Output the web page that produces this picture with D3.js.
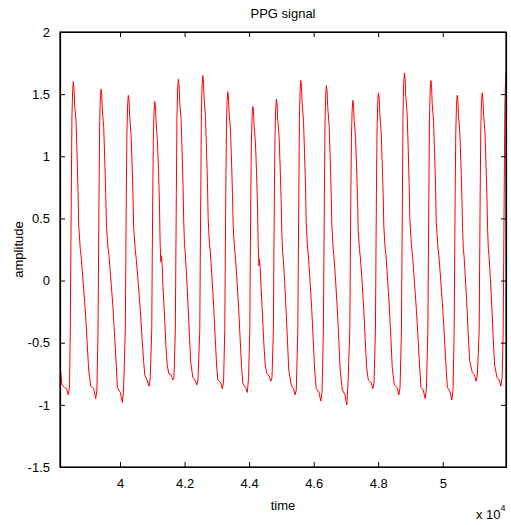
<!DOCTYPE html>
<html>
<head>
<meta charset="utf-8">
<script src="https://cdnjs.cloudflare.com/ajax/libs/d3/7.8.5/d3.min.js"></script>
<style>
    body { margin: 0; background: #fff; }
    svg text { font-family: 'Liberation Sans', Arial, sans-serif; font-size: 13px; fill: #000; }
</style>
</head>
<body>
<svg id="chart" width="511" height="525"></svg>
<script>
    // samples: [time, amplitude]
    const ppgPoints = [
        [38140,-0.65],[38171,-0.76],[38202,-0.84],[38280,-0.86],[38342,-0.87],[38373,-0.90],[38397,-0.92],
        // beat 1
        [38434,-0.86],[38459,-0.40],[38474,0.15],[38490,0.70],[38509,1.30],[38530,1.52],[38552,1.60],
        [38574,1.55],[38592,1.42],[38636,1.29],[38667,1.02],[38698,0.73],[38719,0.45],[38769,0.25],[38800,0.18],
        [38853,0.00],[38924,-0.24],[38977,-0.48],[39029,-0.72],[39092,-0.85],[39185,-0.87],[39247,-0.95],
        // beat 2
        [39284,-0.88],[39318,-0.40],[39333,0.15],[39349,0.70],[39368,1.24],[39389,1.46],[39411,1.54],
        [39433,1.50],[39451,1.38],[39495,1.23],[39526,0.98],[39557,0.70],[39578,0.45],[39628,0.26],[39659,0.20],
        [39712,0.02],[39783,-0.22],[39836,-0.46],[39888,-0.70],[39916,-0.86],[40009,-0.90],[40071,-0.98],
        // beat 3
        [40108,-0.90],[40164,-0.40],[40179,0.15],[40195,0.70],[40214,1.19],[40235,1.41],[40257,1.49],
        [40279,1.45],[40297,1.33],[40341,1.18],[40372,0.95],[40403,0.68],[40424,0.42],[40474,0.24],[40505,0.17],
        [40558,0.00],[40629,-0.24],[40682,-0.46],[40734,-0.66],[40769,-0.76],[40837,-0.80],[40899,-0.85],
        // beat 4
        [40936,-0.78],[40983,-0.40],[40998,0.15],[41014,0.70],[41033,1.14],[41054,1.36],[41076,1.44],
        [41098,1.40],[41116,1.28],[41160,1.12],[41191,0.90],[41222,0.62],[41243,0.30],[41266,0.15],[41281,0.20],
        [41306,0.12],[41331,-0.05],[41381,-0.30],[41421,-0.52],[41461,-0.68],[41514,-0.75],[41584,-0.76],[41634,-0.80],
        // beat 5
        [41671,-0.78],[41714,-0.40],[41729,0.15],[41745,0.70],[41764,1.32],[41785,1.54],[41807,1.62],
        [41829,1.57],[41847,1.44],[41891,1.30],[41922,1.05],[41953,0.76],[41974,0.48],[41997,0.30],[42022,0.22],
        [42062,0.04],[42112,-0.22],[42152,-0.45],[42192,-0.66],[42258,-0.78],[42328,-0.80],[42378,-0.84],
        // beat 6
        [42415,-0.80],[42471,-0.40],[42486,0.15],[42502,0.70],[42521,1.35],[42542,1.57],[42564,1.65],
        [42586,1.60],[42604,1.47],[42648,1.32],[42679,1.06],[42710,0.78],[42731,0.50],[42769,0.30],[42796,0.24],
        [42844,0.05],[42904,-0.22],[42949,-0.46],[42992,-0.68],[43031,-0.80],[43116,-0.82],[43171,-0.87],
        // beat 7
        [43208,-0.82],[43246,-0.40],[43261,0.15],[43277,0.70],[43296,1.22],[43317,1.44],[43339,1.52],
        [43361,1.48],[43379,1.36],[43423,1.21],[43454,0.97],[43485,0.70],[43506,0.44],[43544,0.27],[43571,0.20],
        [43619,0.02],[43679,-0.24],[43724,-0.48],[43767,-0.70],[43806,-0.83],[43891,-0.86],[43946,-0.90],
        // beat 8
        [43983,-0.78],[44021,-0.40],[44036,0.15],[44052,0.70],[44071,1.10],[44092,1.32],[44114,1.40],
        [44136,1.36],[44154,1.25],[44198,1.10],[44229,0.88],[44260,0.60],[44281,0.30],[44304,0.12],[44319,0.17],
        [44344,0.10],[44369,-0.05],[44419,-0.30],[44459,-0.52],[44499,-0.68],[44552,-0.75],[44622,-0.77],[44672,-0.81],
        // beat 9
        [44709,-0.78],[44752,-0.40],[44767,0.15],[44783,0.70],[44802,1.16],[44823,1.38],[44845,1.46],
        [44867,1.42],[44885,1.30],[44929,1.16],[44960,0.93],[44991,0.66],[45012,0.40],[45035,0.24],[45060,0.17],
        [45100,0.00],[45150,-0.26],[45190,-0.50],[45230,-0.72],[45305,-0.84],[45375,-0.87],[45425,-0.92],
        // beat 10
        [45462,-0.88],[45509,-0.40],[45524,0.15],[45540,0.70],[45559,1.31],[45580,1.53],[45602,1.61],
        [45624,1.56],[45642,1.43],[45686,1.28],[45717,1.03],[45748,0.75],[45769,0.47],[45807,0.28],[45834,0.21],
        [45882,0.02],[45942,-0.24],[45987,-0.48],[46030,-0.72],[46082,-0.87],[46167,-0.90],[46222,-0.97],
        // beat 11
        [46259,-0.90],[46302,-0.40],[46317,0.15],[46333,0.70],[46352,1.27],[46373,1.49],[46395,1.57],
        [46417,1.52],[46435,1.40],[46479,1.25],[46510,1.00],[46541,0.72],[46562,0.46],[46600,0.27],[46627,0.20],
        [46675,0.02],[46735,-0.24],[46780,-0.48],[46823,-0.72],[46888,-0.88],[46973,-0.92],[47028,-1.00],
        // beat 12
        [47065,-0.82],[47121,-0.40],[47136,0.15],[47152,0.70],[47171,1.15],[47192,1.37],[47214,1.45],
        [47236,1.41],[47254,1.29],[47298,1.15],[47329,0.92],[47360,0.66],[47381,0.40],[47419,0.25],[47446,0.19],
        [47494,0.02],[47554,-0.24],[47599,-0.48],[47642,-0.70],[47694,-0.80],[47779,-0.82],[47834,-0.87],
        // beat 13
        [47871,-0.82],[47914,-0.40],[47929,0.15],[47945,0.70],[47964,1.21],[47985,1.43],[48007,1.51],
        [48029,1.47],[48047,1.35],[48091,1.20],[48122,0.96],[48153,0.70],[48174,0.44],[48212,0.27],[48239,0.21],
        [48287,0.03],[48347,-0.22],[48392,-0.46],[48435,-0.70],[48500,-0.84],[48585,-0.86],[48640,-0.92],
        // beat 14
        [48677,-0.86],[48720,-0.40],[48735,0.15],[48751,0.70],[48770,1.37],[48791,1.59],[48813,1.67],
        [48835,1.62],[48853,1.49],[48897,1.34],[48928,1.08],[48959,0.78],[48980,0.50],[49030,0.28],[49061,0.21],
        [49114,0.02],[49185,-0.24],[49238,-0.48],[49290,-0.72],[49325,-0.86],[49393,-0.88],[49455,-0.95],
        // beat 15
        [49492,-0.88],[49539,-0.40],[49554,0.15],[49570,0.70],[49589,1.31],[49610,1.53],[49632,1.61],
        [49654,1.56],[49672,1.43],[49716,1.28],[49747,1.03],[49778,0.75],[49799,0.47],[49849,0.27],[49880,0.20],
        [49933,0.02],[50004,-0.24],[50057,-0.48],[50109,-0.72],[50143,-0.86],[50221,-0.89],[50283,-0.96],
        // beat 16
        [50320,-0.88],[50354,-0.40],[50369,0.15],[50385,0.70],[50404,1.19],[50425,1.41],[50447,1.49],
        [50469,1.45],[50487,1.33],[50531,1.18],[50562,0.95],[50593,0.68],[50614,0.42],[50637,0.26],[50662,0.19],
        [50702,0.02],[50752,-0.22],[50792,-0.44],[50832,-0.64],[50916,-0.74],[50986,-0.76],[51036,-0.81],
        // beat 17
        [51073,-0.76],[51129,-0.40],[51144,0.15],[51160,0.70],[51179,1.21],[51200,1.43],[51222,1.51],
        [51244,1.47],[51262,1.35],[51306,1.20],[51337,0.96],[51368,0.69],[51389,0.42],[51412,0.26],[51437,0.19],
        [51477,0.01],[51527,-0.24],[51567,-0.48],[51607,-0.68],[51682,-0.78],[51752,-0.80],[51802,-0.85],
        // beat 18 (cut at the right edge)
        [51839,-0.78],[51873,-0.40],[51888,0.15],[51904,0.70],[51923,1.37],[51944,1.59],[51960,1.67]
    ];

    const xTicks = [40000, 42000, 44000, 46000, 48000, 50000];
    const xTickLabels = ["4", "4.2", "4.4", "4.6", "4.8", "5"];
    const yTicks = [-1.5, -1, -0.5, 0, 0.5, 1, 1.5, 2];
    const yTickLabels = ["-1.5", "-1", "-0.5", "0", "0.5", "1", "1.5", "2"];

    let svg = d3.select("svg#chart");
    let padding = {top: 32, bottom: 58, left: 60, right: 5};
    let chartWidth = 511 - padding.left - padding.right;
    let chartHeight = 525 - padding.top - padding.bottom;

    let xScale = d3.scaleLinear()
        .domain([38140, 51960])
        .range([0, chartWidth]);

    let yScale = d3.scaleLinear()
        .domain([-1.5, 2])
        .range([chartHeight, 0]);

    let g = svg.append("g")
        .attr("transform", "translate(" + padding.left + "," + padding.top + ")");

    g.append("clipPath").attr("id", "clip")
        .append("rect").attr("width", chartWidth).attr("height", chartHeight);

    // the signal
    let line = d3.line()
        .x(d => xScale(d[0]))
        .y(d => yScale(d[1]));

    g.append("path")
        .datum(ppgPoints)
        .attr("clip-path", "url(#clip)")
        .attr("fill", "none")
        .attr("stroke", "#ff0000")
        .attr("stroke-width", 1)
        .attr("d", line);

    // matlab style axes, ticks pointing inward on all four sides
    const tickLen = 5;

    let xAxis = d3.axisBottom(xScale).tickValues(xTicks).tickFormat((d, i) => xTickLabels[i])
        .tickSizeInner(-tickLen).tickSizeOuter(0).tickPadding(12);
    let xAxisTop = d3.axisTop(xScale).tickValues(xTicks).tickFormat("")
        .tickSizeInner(-tickLen).tickSizeOuter(0);
    let yAxis = d3.axisLeft(yScale).tickValues(yTicks).tickFormat((d, i) => yTickLabels[i])
        .tickSizeInner(-tickLen).tickSizeOuter(0).tickPadding(10);
    let yAxisRight = d3.axisRight(yScale).tickValues(yTicks).tickFormat("")
        .tickSizeInner(-tickLen).tickSizeOuter(0);

    g.append("g").attr("class", "axis")
        .attr("transform", "translate(0," + chartHeight + ")").call(xAxis);
    g.append("g").attr("class", "axis").call(xAxisTop);
    g.append("g").attr("class", "axis").call(yAxis);
    g.append("g").attr("class", "axis")
        .attr("transform", "translate(" + chartWidth + ",0)").call(yAxisRight);

    g.selectAll(".axis text")
        .attr("font-family", "'Liberation Sans', Arial, sans-serif")
        .attr("font-size", 13)
        .attr("fill", "#000");
    g.selectAll(".axis .domain").attr("stroke", "#000").attr("stroke-width", 1.2);
    g.selectAll(".axis line").attr("stroke", "#000");

    // box
    g.append("rect")
        .attr("width", chartWidth).attr("height", chartHeight)
        .attr("fill", "none").attr("stroke", "#000").attr("stroke-width", 1.2);

    // titles
    svg.append("text")
        .attr("x", padding.left + chartWidth / 2).attr("y", 18)
        .attr("text-anchor", "middle").text("PPG signal");

    svg.append("text")
        .attr("x", padding.left + chartWidth / 2).attr("y", 510)
        .attr("text-anchor", "middle").text("time");

    svg.append("text")
        .attr("transform", "translate(23," + (padding.top + chartHeight / 2) + ") rotate(-90)")
        .attr("text-anchor", "middle").text("amplitude");

    let expo = svg.append("text").attr("x", 476).attr("y", 519);
    expo.append("tspan").text("x 10");
    expo.append("tspan").attr("dy", -8).attr("font-size", 9).text("4");
</script>
</body>
</html>
